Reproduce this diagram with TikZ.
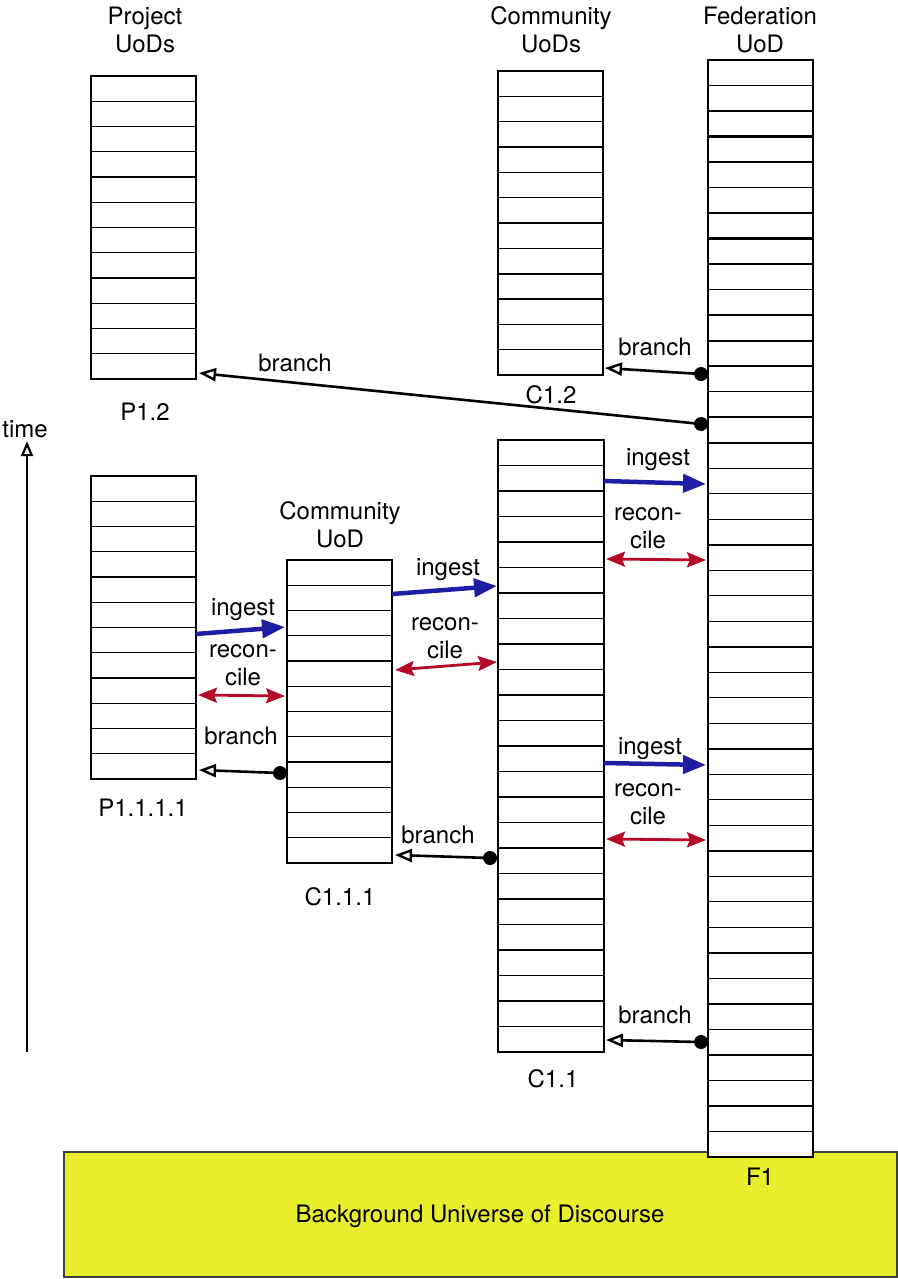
\documentclass[tikz,border=0pt]{standalone}
\usepackage{fontspec}
\setmainfont{TeX Gyre Heros}
\usetikzlibrary{arrows.meta}

\definecolor{ingestblue}{RGB}{30,30,165}
\definecolor{reconred}{RGB}{180,10,40}
\definecolor{bguod}{RGB}{232,238,42}

\tikzset{
  stack/.style={draw, line width=1.5pt, fill=white, inner sep=0pt, outer sep=0pt,
    minimum width=105pt, anchor=north west},
  rowline/.style={line width=1.3pt},
  grpline/.style={line width=2.2pt},
  dot/.style={circle, fill=black, inner sep=0pt, minimum size=14pt},
  branchto/.style={line width=2.6pt, -{Triangle[open, length=17pt, width=13pt, line width=2.4pt]}},
  ingestto/.style={ingestblue, line width=4.5pt, -{Triangle[length=23pt, width=18pt]}},
  reconto/.style={reconred, line width=2.8pt,
    {Stealth[length=19pt, width=15pt, inset=3pt]}-{Stealth[length=19pt, width=15pt, inset=3pt]}},
  timeaxis/.style={line width=2.4pt, -{Triangle[open, length=15pt, width=12pt, line width=2.2pt]}},
  lbl/.style={align=center, font=\fontsize{24}{28}\selectfont},
  bgbox/.style={fill=bguod, draw=black!75, line width=1.5pt, inner sep=0pt, outer sep=0pt,
    anchor=north west},
}

\begin{document}
\begin{tikzpicture}[x=1pt, y=-1pt]
  \useasboundingbox (0,0) rectangle (897,1279);

  % Background UoD
  \node[bgbox, minimum width=833pt, minimum height=125pt] (bg) at (64,1152) {};
  \node[lbl] (bgL) at (480,1216) {Background Universe of Discourse};

  % Project UoDs
  \node[lbl] (projT) at (145,30) {Project\\UoDs};
  \node[stack, minimum height=303pt] (P12) at (91,76) {};
  \foreach \k in {1,...,11} \draw[rowline] (P12.north west) ++(0,\k*25.25) -- ++(105,0);
  \draw[grpline] (P12.north west) ++(0,8*25.25) -- ++(105,0);
  \node[lbl] (P12L) at (145,412) {P1.2};

  \node[stack, minimum height=303pt] (P1111) at (91,476) {};
  \foreach \k in {1,...,11} \draw[rowline] (P1111.north west) ++(0,\k*25.25) -- ++(105,0);
  \draw[grpline] (P1111.north west) ++(0,8*25.25) -- ++(105,0);
  \node[lbl] (P1111L) at (143,808) {P1.1.1.1};

  % Community UoDs
  \node[lbl] (commT) at (551,30) {Community\\UoDs};
  \node[stack, minimum height=304pt] (C12) at (498,71) {};
  \foreach \k in {1,...,11} \draw[rowline] (C12.north west) ++(0,\k*25.33) -- ++(105,0);
  \draw[grpline] (C12.north west) ++(0,8*25.33) -- ++(105,0);
  \node[lbl] (C12L) at (551,395) {C1.2};

  \node[lbl] (commU) at (340,525) {Community\\UoD};
  \node[stack, minimum height=303pt] (C111) at (287,560) {};
  \foreach \k in {1,...,11} \draw[rowline] (C111.north west) ++(0,\k*25.25) -- ++(105,0);
  \draw[grpline] (C111.north west) ++(0,8*25.25) -- ++(105,0);
  \node[lbl] (C111L) at (340,897) {C1.1.1};

  \node[stack, minimum width=106pt, minimum height=612pt] (C11) at (498,440) {};
  \foreach \k in {1,...,23} \draw[rowline] (C11.north west) ++(0,\k*25.5) -- ++(106,0);
  \foreach \k in {4,8,...,20} \draw[grpline] (C11.north west) ++(0,\k*25.5) -- ++(106,0);
  \node[lbl] (C11L) at (553,1079) {C1.1};

  % Federation UoD
  \node[lbl] (fedT) at (760,30) {Federation\\UoD};
  \node[stack, minimum height=1097pt] (F1) at (708,60) {};
  \foreach \k in {1,...,42} \draw[rowline] (F1.north west) ++(0,\k*25.51) -- ++(105,0);
  \foreach \k in {3,7,...,39} \draw[grpline] (F1.north west) ++(0,\k*25.51) -- ++(105,0);
  \node[lbl] (F1L) at (760,1177) {F1};

  % time
  \node[lbl] (time) at (25,429) {time};
  \coordinate (t0) at (27,1052);
  \draw[timeaxis] (t0) -- (t0 |- time.south);

  % branches
  \node[dot] (dF1a) at (701,374) {};
  \node[dot] (dF1b) at (701,424) {};
  \node[dot] (dF1c) at (701,1042) {};
  \node[dot] (dC11) at (490,858) {};
  \node[dot] (dC111) at (280,773) {};
  \draw[branchto] (dF1a.center) -- ([xshift=2pt]C12.east |- 0,368);
  \draw[branchto] (dF1b.center) -- ([xshift=3pt]P12.east |- 0,373);
  \draw[branchto] (dF1c.center) -- ([xshift=2pt]C11.east |- 0,1040);
  \draw[branchto] (dC11.center) -- ([xshift=3pt]C111.east |- 0,855);
  \draw[branchto] (dC111.center) -- ([xshift=3pt]P1111.east |- 0,770);
  \node[lbl] at (655,347) {branch};
  \node[lbl] at (295,363) {branch};
  \node[lbl] at (655,1015) {branch};
  \node[lbl] at (438,835) {branch};
  \node[lbl] at (241,736) {branch};

  % ingest
  \draw[ingestto] (C11.east |- 0,481) -- ([xshift=-2pt]F1.west |- 0,484);
  \draw[ingestto] (C111.east |- 0,594) -- ([xshift=-1pt]C11.west |- 0,586);
  \draw[ingestto] (P1111.east |- 0,634) -- ([xshift=-2pt]C111.west |- 0,627);
  \draw[ingestto] (C11.east |- 0,763) -- ([xshift=-2pt]F1.west |- 0,765);
  \node[lbl] at (658,460) {ingest};
  \node[lbl] at (448,570) {ingest};
  \node[lbl] at (243,610) {ingest};
  \node[lbl] at (650,749) {ingest};

  % reconcile
  \draw[reconto] ([xshift=2pt]C11.east |- 0,559) -- ([xshift=-2pt]F1.west |- 0,560);
  \draw[reconto] ([xshift=3pt]C111.east |- 0,670) -- ([xshift=-1pt]C11.west |- 0,662);
  \draw[reconto] ([xshift=2pt]P1111.east |- 0,695) -- ([xshift=-2pt]C111.west |- 0,696);
  \draw[reconto] ([xshift=2pt]C11.east |- 0,839) -- ([xshift=-2pt]F1.west |- 0,840);
  \node[lbl] at (648,528) {recon-\\cile};
  \node[lbl] at (445,638) {recon-\\cile};
  \node[lbl] at (243,665) {recon-\\cile};
  \node[lbl] at (648,804) {recon-\\cile};
\end{tikzpicture}
\end{document}
